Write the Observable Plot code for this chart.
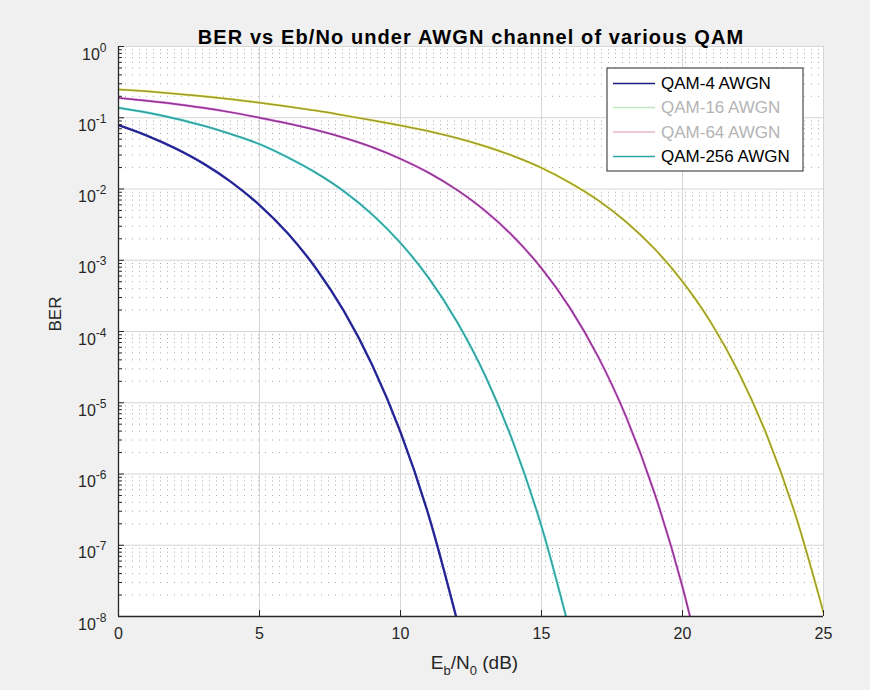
<!DOCTYPE html>
<html><head><meta charset="utf-8">
<script src="https://cdn.jsdelivr.net/npm/d3@7"></script>
<script src="https://cdn.jsdelivr.net/npm/@observablehq/plot@0.6"></script>
<style>
html,body{margin:0;padding:0;background:#f0f0f0;}
#chart{width:870px;height:690px;}
</style></head><body><div id="chart"></div>
<script>
// ---- data ----
const seriesNames = ["QAM-4 AWGN", "QAM-16 AWGN", "QAM-64 AWGN", "QAM-256 AWGN"];
const ebnoQAM4 = [0,1,2,3,4,5,6,7,8,9,10,11,12];
const berQAM4 = [7.86e-2,5.63e-2,3.75e-2,2.29e-2,1.25e-2,5.95e-3,2.39e-3,7.73e-4,1.91e-4,3.36e-5,3.87e-6,2.61e-7,9.0e-9];
const ebnoQAM16 = [0,1,2,3,4,5,6,7,8,9,10,11,12,13,14,15,16];
const berQAM16 = [1.38e-1,1.185e-1,9.77e-2,7.76e-2,5.87e-2,4.26e-2,2.78e-2,1.69e-2,9.25e-3,4.38e-3,1.75e-3,5.63e-4,1.38e-4,2.42e-5,2.75e-6,1.84e-7,6.3e-9];
const ebnoQAM64 = [0,1,2,3,4,5,6,7,8,9,10,11,12,13,14,15,16,17,18,19,20,21];
const berQAM64 = [1.90e-1,1.73e-1,1.56e-1,1.38e-1,1.19e-1,1.00e-1,8.33e-2,6.74e-2,5.23e-2,3.86e-2,2.65e-2,1.69e-2,9.72e-3,4.95e-3,2.15e-3,7.72e-4,2.17e-4,4.49e-5,6.36e-6,5.5e-7,2.6e-8,5.8e-10];
const ebnoQAM256 = [0,1,2,3,4,5,6,7,8,9,10,11,12,13,14,15,16,17,18,19,20,21,22,23,24,25];
const berQAM256 = [2.50e-1,2.35e-1,2.18e-1,2.0e-1,1.82e-1,1.63e-1,1.44e-1,1.26e-1,1.08e-1,9.2e-2,7.8e-2,6.48e-2,5.19e-2,3.98e-2,2.90e-2,1.98e-2,1.23e-2,6.98e-3,3.46e-3,1.46e-3,5.03e-4,1.35e-4,2.62e-5,3.43e-6,2.71e-7,1.14e-8];

const xTicks = [0,5,10,15,20,25];
const yExponents = [0,-1,-2,-3,-4,-5,-6,-7,-8];
const titleText = "BER vs Eb/No under AWGN channel of various QAM";
const yLabel = "BER";

// ---- styles ----
const curveStyles = [
  {halo: "#3c3cb4", core: "#24248c"},
  {halo: "#6fe8e8", core: "#3a9c98"},
  {halo: "#f48cf4", core: "#8a3a8a"},
  {halo: "#eeee66", core: "#9a9a36"}
];
const legendLine = ["#1c1c80", "#bfe8bf", "#e8b6cc", "#2fa5a5"];
const legendText = ["#000000", "#b4b4b4", "#b4b4b4", "#000000"];

const W = 870, H = 690, mL = 118, mR = 47, mT = 46, mB = 74;
const fw = W - mL - mR, fh = H - mT - mB;

const yMajor = yExponents.map(e => Math.pow(10, e));
const yMinor = [];
for (let e = -8; e < 0; e++) for (let k = 2; k <= 9; k++) yMinor.push(k * Math.pow(10, e));

const series = [
  [ebnoQAM4, berQAM4], [ebnoQAM16, berQAM16], [ebnoQAM64, berQAM64], [ebnoQAM256, berQAM256]
].map(([xs, ys]) => xs.map((x, i) => ({x, y: ys[i]})));

const lineMarks = [];
series.forEach((rows, i) => {
  lineMarks.push(Plot.line(rows, {x: "x", y: "y", stroke: curveStyles[i].halo, strokeWidth: 2.4, clip: true, curve: "monotone-x"}));
  lineMarks.push(Plot.line(rows, {x: "x", y: "y", stroke: curveStyles[i].core, strokeWidth: 1.5, clip: true, curve: "monotone-x"}));
});

const svg = Plot.plot({
  width: W, height: H,
  marginLeft: mL, marginRight: mR, marginTop: mT, marginBottom: mB,
  style: {fontFamily: "'Liberation Sans', Arial, Helvetica, sans-serif", fontSize: "16px", background: "#f0f0f0", color: "#262626"},
  x: {domain: [0, 25]},
  y: {type: "log", domain: [1e-8, 1]},
  marks: [
    Plot.frame({fill: "white", stroke: null}),
    Plot.ruleY(yMinor, {stroke: "#a8a8a8", strokeDasharray: "1,6"}),
    Plot.ruleY(yMajor, {stroke: "#d6d6d6"}),
    Plot.ruleX(xTicks, {stroke: "#d6d6d6"}),
    ...lineMarks,
    Plot.tickY(yMajor, {y: d => d, insetRight: fw - 6, stroke: "#262626"}),
    Plot.tickY(yMinor, {y: d => d, insetRight: fw - 4, stroke: "#262626"}),
    Plot.tickX(xTicks, {x: d => d, insetTop: fh - 6, stroke: "#262626"}),
    Plot.ruleX([0], {stroke: "#262626", strokeWidth: 1.3}),
    Plot.ruleY([1e-8], {stroke: "#262626", strokeWidth: 1.3}),
    Plot.axisX({ticks: xTicks, tickSize: 0, tickPadding: 11, label: null, fontSize: 16}),
    Plot.axisY({ticks: yMajor, tickSize: 0, tickPadding: 12, label: null, fontSize: 16,
      tickFormat: d => String(Math.round(Math.log10(d)))}),
    Plot.text([titleText], {frameAnchor: "top", dy: -17, fontWeight: "bold", fontSize: 20, fill: "#000"}),
    Plot.text([yLabel], {frameAnchor: "left", dx: -63, rotate: -90, fontSize: 17, fill: "#262626"})
  ]
});
document.getElementById("chart").appendChild(svg);

const s = d3.select(svg);
// y tick labels as 10^n
s.selectAll('g[aria-label="y-axis tick label"] text').each(function() {
  const t = d3.select(this);
  const e = t.text();
  t.text(null).attr("dy", 8);
  t.append("tspan").text("10");
  t.append("tspan").attr("dy", -8).attr("font-size", 12).text(e);
});
// title letter spacing
s.selectAll('g[aria-label="text"] text').filter(function(){ return d3.select(this).text() === titleText; })
  .style("letter-spacing", "1.1px");

// x label with subscripts
const xl = s.append("text").attr("x", mL + fw / 2 + 4).attr("y", 669).attr("text-anchor", "middle")
  .attr("font-size", 19).attr("fill", "#262626");
xl.append("tspan").text("E");
xl.append("tspan").attr("dy", 6).attr("font-size", 13).text("b");
xl.append("tspan").attr("dy", -6).text("/N");
xl.append("tspan").attr("dy", 6).attr("font-size", 13).text("0");
xl.append("tspan").attr("dy", -6).text(" (dB)");

// legend
const lg = s.append("g").attr("transform", "translate(607,68)");
lg.append("rect").attr("width", 196).attr("height", 103).attr("fill", "white").attr("stroke", "#262626").attr("stroke-width", 1);
const rowY = [15.5, 39.5, 64, 88.5];
seriesNames.forEach((name, i) => {
  lg.append("line").attr("x1", 6).attr("x2", 48).attr("y1", rowY[i]).attr("y2", rowY[i])
    .attr("stroke", legendLine[i]).attr("stroke-width", 1.6);
  lg.append("text").attr("x", 54).attr("y", rowY[i]).attr("dy", "0.35em").attr("text-anchor", "start")
    .attr("font-size", 17).attr("fill", legendText[i]).text(name);
});
</script>
</body></html>
